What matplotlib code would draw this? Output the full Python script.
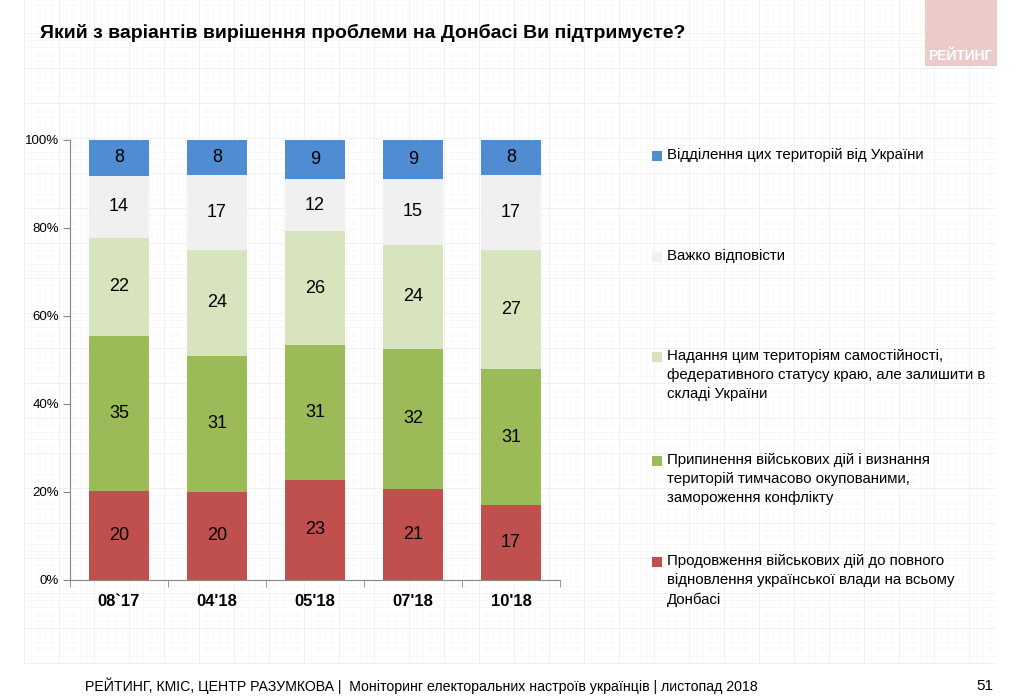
import matplotlib
matplotlib.use('Agg')
import matplotlib.pyplot as plt
from matplotlib.patches import Rectangle
import numpy as np

plt.rcParams['font.family'] = ['Liberation Sans', 'DejaVu Sans']

# дані
waves = ["08`17", "04'18", "05'18", "07'18", "10'18"]
red_vals = [20, 20, 23, 21, 17]
green_vals = [35, 31, 31, 32, 31]
pale_vals = [22, 24, 26, 24, 27]
gray_vals = [14, 17, 12, 15, 17]
blue_vals = [8, 8, 9, 9, 8]

series = [red_vals, green_vals, pale_vals, gray_vals, blue_vals]
colors = ['#C0504D', '#9BBB59', '#D7E4BD', '#F0F0F0', '#508CD2']
labels = ['Продовження військових дій до повного\nвідновлення української влади на всьому\nДонбасі',
          'Припинення військових дій і визнання\nтериторій тимчасово окупованими,\nзамороження конфлікту',
          'Надання цим територіям самостійності,\nфедеративного статусу краю, але залишити в\nскладі України',
          'Важко відповісти',
          'Відділення цих територій від України']

W, H = 1024, 698
fig = plt.figure(figsize=(W / 100, H / 100), dpi=100)
fig.patch.set_facecolor('white')

# фон у клітинку
bg = fig.add_axes([0, 0, 1, 1], zorder=-10)
bg.set_xlim(0, W)
bg.set_ylim(H, 0)
bg.axis('off')
gx0, gx1, gy0, gy1 = 24, 995, 0, 663
for x in np.arange(gx0, gx1, 7):
    major = (round((x - gx0) / 7) % 5) == 0
    bg.plot([x, x], [gy0, gy1], color='#efefef' if major else '#f7f7f7', lw=0.6 if major else 0.5, zorder=1)
for y in np.arange(gy1, gy0, -7):
    major = (round((gy1 - y) / 7) % 5) == 0
    bg.plot([gx0, gx1], [y, y], color='#efefef' if major else '#f7f7f7', lw=0.6 if major else 0.5, zorder=1)

# логотип
bg.add_patch(Rectangle((925, 0), 72, 66, facecolor='#EDCACA', edgecolor='none', zorder=3))
bg.text(960, 56, 'РЕЙТИНГ', color='white', fontsize=10, fontweight='bold',
        ha='center', va='center', zorder=4)

# заголовок
fig.text(40 / W, 1 - 33 / H, 'Який з варіантів вирішення проблеми на Донбасі Ви підтримуєте?',
         fontsize=14, fontweight='bold', ha='left', va='center')

# основний графік
ax = fig.add_axes([70 / W, 1 - 580 / H, 490 / W, 440 / H])
ax.patch.set_alpha(0)
x = np.arange(len(waves))
totals = np.sum(series, axis=0)
bottom = np.zeros(len(waves))
for vals, c in zip(series, colors):
    share = np.array(vals) / totals * 100
    ax.bar(x, share, bottom=bottom, width=0.62, color=c, edgecolor='none')
    for xi, b, s, v in zip(x, bottom, share, vals):
        ax.text(xi, b + s / 2, str(v), ha='center', va='center', fontsize=13, color='black')
    bottom += share

ax.set_xlim(-0.5, len(waves) - 0.5)
ax.set_ylim(0, 100)
ax.set_yticks([0, 20, 40, 60, 80, 100])
ax.set_yticklabels(['0%', '20%', '40%', '60%', '80%', '100%'], fontsize=9.5)
ax.set_xticks(x)
ax.set_xticklabels(waves, fontsize=12, fontweight='bold')
ax.set_xticks(np.arange(-0.5, len(waves)), minor=True)
ax.tick_params(axis='x', which='major', length=0, pad=10)
ax.tick_params(axis='x', which='minor', length=5, color='#888888')
ax.tick_params(axis='y', length=5, color='#888888', pad=3)
for s in ['top', 'right']:
    ax.spines[s].set_visible(False)
for s in ['left', 'bottom']:
    ax.spines[s].set_color('#888888')

# легенда
leg_y = [562, 461, 357, 257, 156]
for lab, c, yy in zip(labels, colors, leg_y):
    bg.add_patch(Rectangle((652, yy - 5), 10, 10, facecolor=c, edgecolor='none', zorder=3))
    bg.text(667, yy - 8, lab, fontsize=10.8, ha='left', va='top', linespacing=1.45, zorder=4)

# підвал
fig.text(85 / W, 1 - 686 / H,
         'РЕЙТИНГ, КМІС, ЦЕНТР РАЗУМКОВА |  Моніторинг електоральних настроїв українців | листопад 2018',
         fontsize=10.2, ha='left', va='center')
fig.text(985 / W, 1 - 686 / H, '51', fontsize=11, ha='center', va='center')

fig.savefig('out.png', dpi=100)
